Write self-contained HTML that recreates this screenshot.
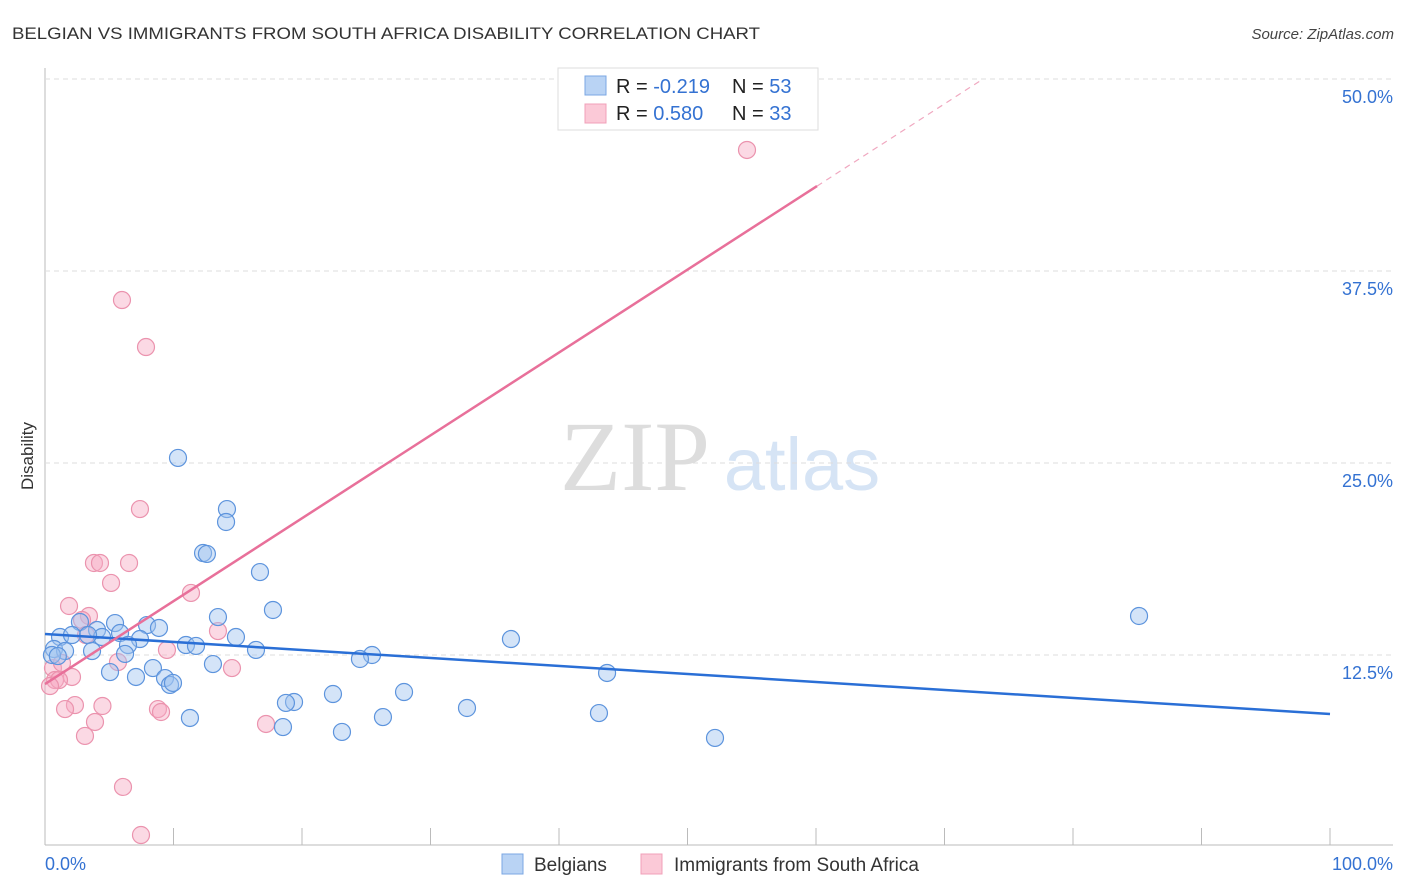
<!DOCTYPE html>
<html><head><meta charset="utf-8"><style>
body{margin:0;background:#fff;font-family:"Liberation Sans",sans-serif;}
svg{display:block}
</style></head><body>
<svg id="c" width="1406" height="892">
<text x="12" y="39" font-size="17" fill="#333" textLength="748" lengthAdjust="spacingAndGlyphs">BELGIAN VS IMMIGRANTS FROM SOUTH AFRICA DISABILITY CORRELATION CHART</text>
<text x="1394" y="39" font-size="15" fill="#444" text-anchor="end" font-style="italic">Source: ZipAtlas.com</text>
<text x="33" y="456" font-size="17" fill="#333" transform="rotate(-90 33 456)" text-anchor="middle">Disability</text>
<g><text x="635" y="490" font-size="100" fill="#ddd" font-family="Liberation Serif,serif" text-anchor="middle">ZIP</text><text x="802" y="490" font-size="74" fill="#d6e4f5" text-anchor="middle">atlas</text></g>
<g id="grid"></g><g id="marks"></g>
<g>
<rect x="558" y="68" width="260" height="62" fill="#fff" stroke="#ddd"/>
<rect x="585" y="76" width="21" height="19" fill="#b9d3f4" stroke="#7ba7e3"/>
<rect x="585" y="104" width="21" height="19" fill="#fbc9d7" stroke="#f0a0b8"/>
<text x="616" y="93" font-size="20" fill="#222">R = <tspan fill="#3472d2">-0.219</tspan><tspan x="732">N = </tspan><tspan fill="#3472d2">53</tspan></text>
<text x="616" y="120" font-size="20" fill="#222">R = <tspan fill="#3472d2"> 0.580</tspan><tspan x="732">N = </tspan><tspan fill="#3472d2">33</tspan></text>
</g>
<g>
<rect x="502" y="854" width="21" height="20" fill="#b9d3f4" stroke="#7ba7e3"/>
<text x="534" y="871" font-size="19" fill="#333">Belgians</text>
<rect x="641" y="854" width="21" height="20" fill="#fbc9d7" stroke="#f0a0b8"/>
<text x="674" y="871" font-size="19" fill="#333">Immigrants from South Africa</text>
</g>
</svg>
<script>
const yTicks=[12.5,25,37.5,50];
const xTickLabels=["0.0%","100.0%"];
const blueX=[10.35,14.16,14.09,12.3,12.6,16.73,17.74,13.46,85.14,7.94,5.45,2.72,8.87,4.05,5.84,4.44,1.17,2.1,3.35,7.39,14.86,36.26,6.46,10.97,11.75,0.7,1.56,3.66,16.42,6.23,0.54,1.0,25.45,24.51,13.07,8.4,43.74,5.06,7.08,9.34,9.73,9.96,27.94,22.41,19.38,18.75,32.84,43.11,11.28,26.3,18.52,23.11,52.14];
const blueY=[25.33,22.0,21.16,19.14,19.08,17.9,15.43,14.97,15.04,14.45,14.58,14.65,14.26,14.13,13.93,13.67,13.67,13.8,13.8,13.54,13.67,13.54,13.15,13.15,13.09,12.89,12.76,12.76,12.83,12.57,12.5,12.43,12.5,12.24,11.91,11.65,11.33,11.39,11.07,11.0,10.55,10.68,10.09,9.96,9.44,9.38,9.05,8.72,8.4,8.46,7.81,7.49,7.1];
const pinkX=[54.63,5.99,7.86,7.39,3.81,4.28,6.54,5.14,11.36,1.87,3.42,2.88,13.46,3.19,9.49,5.68,14.55,0.62,1.32,2.1,0.78,1.09,0.39,4.47,2.33,1.56,8.79,9.03,3.89,17.2,3.11,6.07,7.47];
const pinkY=[45.38,35.61,32.55,22.0,18.49,18.49,18.49,17.19,16.54,15.69,15.04,14.78,14.06,13.8,12.83,12.04,11.65,11.65,11.98,11.07,10.87,10.87,10.48,9.18,9.24,8.98,8.98,8.79,8.14,8.01,7.23,3.91,0.78];
const blueTrend=[13.87,8.66]; // y at x=0 and x=100
const pinkTrend=[10.61,0.5396]; // intercept, slope
const NS="http://www.w3.org/2000/svg";
const sx=v=>45+v*12.85, sy=v=>847-v*15.36;
function mk(t,a,p){const e=document.createElementNS(NS,t);for(const k in a)e.setAttribute(k,a[k]);p.appendChild(e);return e;}
const g=document.getElementById('grid'),m=document.getElementById('marks');
let ax=mk('line',{x1:45,y1:68,x2:45,y2:845,stroke:'#bbb'},g);


ax=mk('line',{x1:45,y1:845,x2:1393,y2:845,stroke:'#bbb'},g);


for(let i=0;i<=10;i++){const t=mk('line',{x1:sx(i*10),y1:828,x2:sx(i*10),y2:845,stroke:'#bbb'},g);

}
yTicks.forEach(v=>{const l=mk('line',{x1:45,y1:sy(v),x2:1393,y2:sy(v),stroke:'#ddd','stroke-dasharray':'5,4'},g);


const t=mk('text',{x:1393,y:sy(v)+24,'font-size':18,fill:'#3472d2','text-anchor':'end'},g);t.textContent=v.toFixed(1)+'%';

});
let xt=mk('text',{x:45,y:870,'font-size':18,fill:'#3472d2'},g);xt.textContent=xTickLabels[0];


xt=mk('text',{x:1393,y:870,'font-size':18,fill:'#3472d2','text-anchor':'end'},g);xt.textContent=xTickLabels[1];


pinkX.forEach((x,i)=>{const c=mk('circle',{cx:sx(x),cy:sy(pinkY[i]),r:8.5,fill:'rgba(247,170,195,0.45)',stroke:'#eb93ae','stroke-width':1.2},m);

});
blueX.forEach((x,i)=>{const c=mk('circle',{cx:sx(x),cy:sy(blueY[i]),r:8.5,fill:'rgba(160,195,240,0.45)',stroke:'#5d94dd','stroke-width':1.2},m);

});
let l=mk('line',{x1:sx(0),y1:sy(blueTrend[0]),x2:sx(100),y2:sy(blueTrend[1]),stroke:'#2a6fd6','stroke-width':2.5},m);


const pe=60.08, pd=(50-pinkTrend[0])/pinkTrend[1];
l=mk('line',{x1:sx(0),y1:sy(pinkTrend[0]),x2:sx(pe),y2:sy(pinkTrend[0]+pinkTrend[1]*pe),stroke:'#e8709a','stroke-width':2.5},m);


l=mk('line',{x1:sx(pe),y1:sy(pinkTrend[0]+pinkTrend[1]*pe),x2:sx(pd),y2:sy(50),stroke:'#f0a8c0','stroke-width':1.2,'stroke-dasharray':'6,5'},m);


</script>
</body></html>
